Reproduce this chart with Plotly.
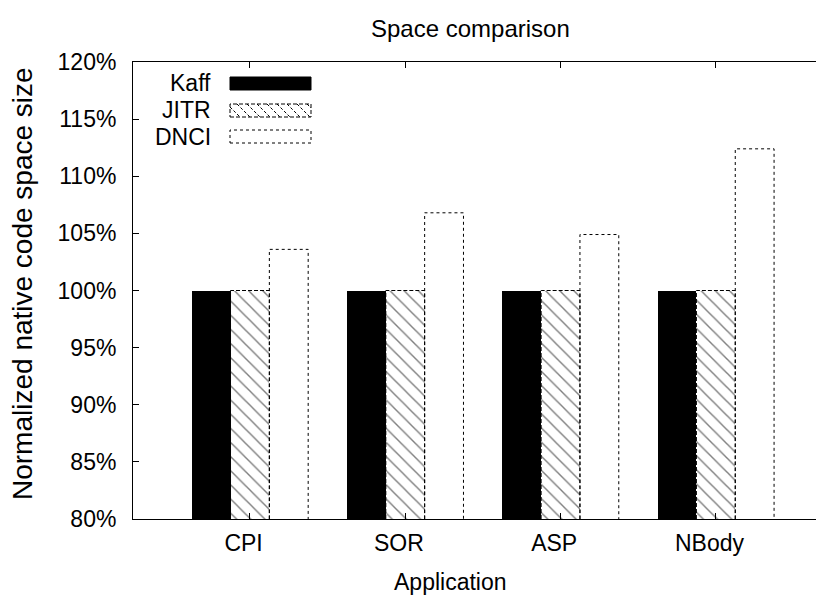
import plotly.graph_objects as go

categories = ["CPI", "SOR", "ASP", "NBody"]
kaff = [100, 100, 100, 100]
jitr = [100, 100, 100, 100]
dnci = [103.6, 106.8, 104.9, 112.4]
series_names = ["Kaff", "JITR", "DNCI"]
y_ticks = [80, 85, 90, 95, 100, 105, 110, 115, 120]

FONT = "Liberation Sans, Arial, sans-serif"
FS = 23
W, H = 824, 599
OFF = 8  # page body margin
L, R, T, B = 125, 0, 54, 88
BW = 0.25
YMIN, YMAX = 80, 120
XMIN, XMAX = -0.753, 3.748
PW = W - L - R
PH = H - T - B

def px(sx):
    return (sx - OFF - L) / PW

def py(sy):
    return (OFF + H - B - sy) / PH

fig = go.Figure()
idx = list(range(len(categories)))
offsets = [-BW, 0.0, BW]

def xs(k):
    return [i + offsets[k] for i in idx]

fig.add_trace(go.Bar(x=xs(0), y=[v - YMIN for v in kaff], base=YMIN, width=BW,
                     marker=dict(color="black", line=dict(width=0)), name="Kaff",
                     showlegend=False))
fig.add_trace(go.Bar(x=xs(1), y=[v - YMIN for v in jitr], base=YMIN, width=BW,
                     marker=dict(color="white", line=dict(width=0),
                                 pattern=dict(shape="\\", fgcolor="black", bgcolor="white",
                                              size=10, solidity=0.14)),
                     name="JITR", showlegend=False))
fig.add_trace(go.Bar(x=xs(2), y=[v - YMIN for v in dnci], base=YMIN, width=BW,
                     marker=dict(color="white", line=dict(width=0)), name="DNCI",
                     showlegend=False))

def outline(k, vals, dash):
    ox, oy = [], []
    for x, v in zip(xs(k), vals):
        ox += [x - BW / 2, x - BW / 2, x + BW / 2, x + BW / 2, None]
        oy += [YMIN, v, v, YMIN, None]
    fig.add_trace(go.Scatter(x=ox, y=oy, mode="lines", showlegend=False, hoverinfo="skip",
                             line=dict(color="black", width=1, dash=dash)))

outline(1, jitr, "4px,2px")
outline(2, dnci, "3px,3px")

fig.update_layout(
    width=W, height=H,
    margin=dict(l=L, r=R, t=T, b=B, autoexpand=False),
    paper_bgcolor="white", plot_bgcolor="white",
    font=dict(family=FONT, size=FS, color="black"),
    bargap=0,
    showlegend=False,
)
fig.update_xaxes(range=[XMIN, XMAX], tickvals=idx,
                 ticktext=[c + "\u00a0\u00a0" for c in categories],
                 showline=True, linecolor="black", linewidth=1, mirror="ticks",
                 ticks="inside", ticklen=6, tickcolor="black", showgrid=False, zeroline=False,
                 automargin=False, ticklabelstandoff=3)
fig.update_yaxes(range=[YMIN, YMAX], tickvals=y_ticks,
                 ticktext=[f"{v}%" for v in y_ticks],
                 showline=True, linecolor="black", linewidth=1, mirror=False,
                 ticks="inside", ticklen=6, tickcolor="black", showgrid=False, zeroline=False,
                 automargin=False, ticklabelstandoff=11)

# titles
fig.add_annotation(x=px(470), y=py(28), xref="paper", yref="paper", text="Space comparison",
                   showarrow=False, xanchor="center", yanchor="middle",
                   font=dict(family=FONT, size=24))
fig.add_annotation(x=px(450), y=py(582), xref="paper", yref="paper", text="Application",
                   showarrow=False, xanchor="center", yanchor="middle",
                   font=dict(family=FONT, size=23))
fig.add_annotation(x=px(22), y=py(284), xref="paper", yref="paper",
                   text="Normalized native code space size", textangle=-90,
                   showarrow=False, xanchor="center", yanchor="middle",
                   font=dict(family=FONT, size=28))

# gnuplot-style legend
sw_x0, sw_x1 = 230, 311
rows = [(77, 90), (104, 117), (130, 143)]
text_right = 213
for name, (y0, y1) in zip(series_names, rows):
    fig.add_annotation(x=px(text_right), y=py((y0 + y1) / 2), xref="paper", yref="paper",
                       text=name, showarrow=False, xanchor="right", yanchor="middle",
                       font=dict(family=FONT, size=FS))

y0, y1 = rows[0]
fig.add_shape(type="rect", xref="paper", yref="paper", x0=px(sw_x0), x1=px(sw_x1),
              y0=py(y1), y1=py(y0), fillcolor="black", line=dict(color="black", width=1))
y0, y1 = rows[1]
hh = y1 - y0
for hx in range(sw_x0 - hh, sw_x1, 10):
    ax0, ay0 = hx, y0
    ax1, ay1 = hx + hh, y1
    if ax0 < sw_x0:
        ay0 = y0 + (sw_x0 - ax0)
        ax0 = sw_x0
    if ax1 > sw_x1:
        ay1 = y1 - (ax1 - sw_x1)
        ax1 = sw_x1
    if ax1 <= ax0:
        continue
    fig.add_shape(type="line", xref="paper", yref="paper", x0=px(ax0), y0=py(ay0),
                  x1=px(ax1), y1=py(ay1), line=dict(color="black", width=1, dash="3px,2px"))
fig.add_shape(type="rect", xref="paper", yref="paper", x0=px(sw_x0), x1=px(sw_x1),
              y0=py(y1), y1=py(y0), line=dict(color="black", width=1, dash="4px,2px"))
y0, y1 = rows[2]
fig.add_shape(type="rect", xref="paper", yref="paper", x0=px(sw_x0), x1=px(sw_x1),
              y0=py(y1), y1=py(y0), fillcolor="white",
              line=dict(color="black", width=1, dash="3px,3px"))

fig.write_html("out.html")
